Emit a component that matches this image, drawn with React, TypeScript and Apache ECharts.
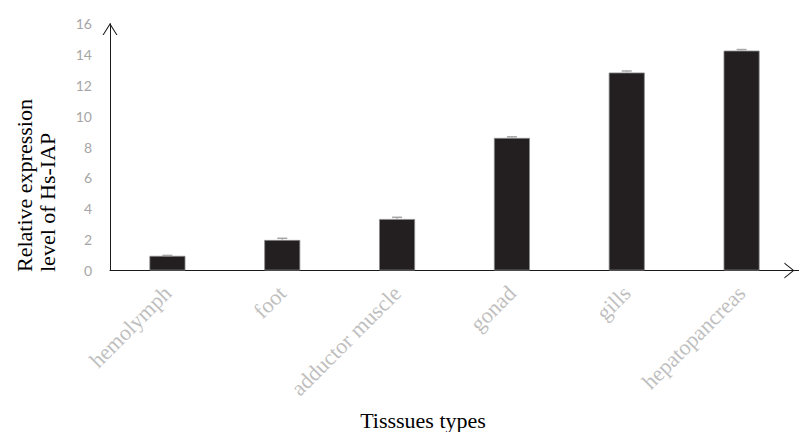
import React, { useEffect, useRef } from "react";
import * as echarts from "echarts";

const categories = ["hemolymph", "foot", "adductor muscle", "gonad", "gills", "hepatopancreas"];
const expression = [0.95, 1.98, 3.34, 8.6, 12.84, 14.26];
const errors = [0.03, 0.11, 0.11, 0.07, 0.1, 0.07];
const yTicks = { min: 0, max: 16, interval: 2 };

const xArrow = "path://M0,10 L8,0 L16,10 L14.8,10 L8,1.6 L1.2,10 Z";
const yArrow = "path://M0,12 L7.5,0 L15,12 L13.8,12 L7.5,1.9 L1.2,12 Z";

export default function App() {
  const ref = useRef<HTMLDivElement>(null);
  useEffect(() => {
    if (!ref.current) return;
    const chart = echarts.init(ref.current, null, { renderer: "svg" });
    const errData = categories.map((_, i) => [i, expression[i], errors[i]]);
    chart.setOption({
      animation: false,
      grid: { left: 110, top: 23.8, width: 693.6, height: 246.7, containLabel: false },
      xAxis: {
        type: "category",
        data: categories,
        boundaryGap: true,
        axisLine: {
          show: true,
          lineStyle: { color: "#1a1a1a", width: 1 },
          symbol: ["none", xArrow],
          symbolSize: [16, 10],
          symbolOffset: [0, -9.6],
        },
        axisTick: { show: false },
        axisLabel: {
          interval: 0,
          rotate: 45,
          margin: 19,
          color: "#bfbfbf",
          fontFamily: "Liberation Serif",
          fontSize: 22,
        },
        splitLine: { show: false },
      },
      yAxis: {
        type: "value",
        min: yTicks.min,
        max: yTicks.max,
        interval: yTicks.interval,
        axisLine: {
          show: true,
          lineStyle: { color: "#1a1a1a", width: 1 },
          symbol: ["none", yArrow],
          symbolSize: [15, 12],
          symbolOffset: [0, -5.2],
        },
        axisTick: { show: false },
        splitLine: { show: false },
        axisLabel: {
          margin: 18,
          color: "#a6a6a6",
          fontFamily: "Lato",
          fontSize: 14,
        },
      },
      series: [
        {
          type: "bar",
          data: expression,
          barWidth: 36,
          itemStyle: { color: "#231f20", borderColor: "#8a8a8a", borderWidth: 0.8 },
          z: 2,
        },
        {
          type: "custom",
          data: errData,
          z: 3,
          renderItem: (params: any, api: any) => {
            const i = api.value(0);
            const v = api.value(1);
            const e = api.value(2);
            const p0 = api.coord([i, v]);
            const p1 = api.coord([i, v + e]);
            const half = 5;
            return {
              type: "group",
              children: [
                {
                  type: "line",
                  shape: { x1: p0[0], y1: p0[1], x2: p1[0], y2: p1[1] },
                  style: { stroke: "#a6a6a6", lineWidth: 1 },
                },
                {
                  type: "line",
                  shape: { x1: p1[0] - half, y1: p1[1], x2: p1[0] + half, y2: p1[1] },
                  style: { stroke: "#a6a6a6", lineWidth: 1.5 },
                },
              ],
            };
          },
        },
      ],
      graphic: [
        {
          type: "text",
          x: 35.5,
          y: 272,
          rotation: Math.PI / 2,
          style: {
            text: "Relative expression\nlevel of Hs-IAP",
            font: '22px "Liberation Serif"',
            fill: "#000",
            textAlign: "left",
            textVerticalAlign: "middle",
            lineHeight: 23,
          },
        },
        {
          type: "text",
          x: 423,
          y: 420,
          style: {
            text: "Tisssues types",
            font: '22px "Liberation Serif"',
            fill: "#000",
            textAlign: "center",
            textVerticalAlign: "middle",
          },
        },
      ],
    });
    return () => chart.dispose();
  }, []);
  return (
    <div
      ref={ref}
      style={{ position: "absolute", left: 0, top: 0, width: 799, height: 432 }}
    />
  );
}
